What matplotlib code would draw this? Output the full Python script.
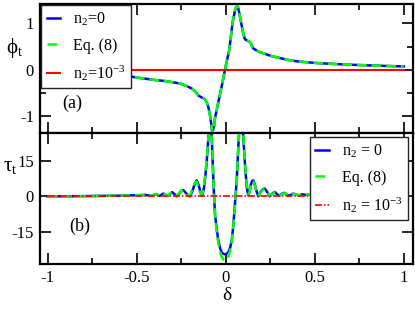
import matplotlib
matplotlib.use("Agg")
import matplotlib.pyplot as plt
from matplotlib.ticker import MultipleLocator, FixedLocator

plt.rcParams['font.family'] = ['Liberation Serif', 'DejaVu Serif']
plt.rcParams['mathtext.fontset'] = 'custom'
plt.rcParams['mathtext.rm'] = 'Liberation Serif'
plt.rcParams['mathtext.it'] = 'Liberation Serif:italic'
plt.rcParams['axes.unicode_minus'] = False
plt.rcParams['lines.scale_dashes'] = False

# ---- panel (a): phase phi_t vs delta ----
delta_a = [-1.0, -0.9, -0.8, -0.7, -0.6, -0.546, -0.5, -0.405, -0.33, -0.256,
           -0.22, -0.19, -0.17, -0.153, -0.135, -0.116, -0.105, -0.097, -0.085,
           -0.075, -0.065, -0.06, -0.04, -0.02, -0.004, 0.02, 0.04, 0.055, 0.067,
           0.078, 0.09, 0.099, 0.108, 0.12, 0.136, 0.155, 0.175, 0.192, 0.23,
           0.26, 0.295, 0.35, 0.4, 0.51, 0.6, 0.7, 0.8, 0.9, 1.0]
phi_n0 = [-0.07, -0.08, -0.09, -0.11, -0.13, -0.14, -0.17, -0.22, -0.25, -0.30,
          -0.35, -0.41, -0.47, -0.56, -0.60, -0.64, -0.72, -0.81, -1.05,
          -1.36, -1.22, -1.05, -0.68, -0.32, 0.0, 0.42, 1.05, 1.32, 1.39,
          1.2, 0.95, 0.78, 0.66, 0.63, 0.6, 0.46, 0.41, 0.38, 0.33,
          0.29, 0.26, 0.21, 0.18, 0.143, 0.125, 0.107, 0.093, 0.08, 0.07]
phi_eq8 = list(phi_n0)
phi_n2 = [0.0, 0.0]
delta_n2 = [-1.0, 1.0]

# ---- panel (b): delay tau_t vs delta ----
delta_b = [-1.0, -0.9, -0.8, -0.7, -0.6, -0.5, -0.45, -0.42, -0.39, -0.37,
           -0.35, -0.325, -0.31, -0.30, -0.288, -0.275, -0.262, -0.25, -0.237,
           -0.225, -0.212, -0.2, -0.188, -0.175, -0.163, -0.152, -0.142, -0.131,
           -0.122, -0.115, -0.107, -0.097, -0.088, -0.078, -0.069, -0.06, -0.05,
           -0.041, -0.03, -0.022, -0.013, -0.004, 0.005, 0.015, 0.025, 0.034,
           0.041, 0.048, 0.062, 0.071, 0.085, 0.099, 0.108, 0.118, 0.127,
           0.133, 0.14, 0.148, 0.155, 0.162, 0.17, 0.183, 0.195, 0.208, 0.22,
           0.232, 0.248, 0.262, 0.276, 0.29, 0.30, 0.315, 0.33, 0.345, 0.36,
           0.375, 0.39, 0.41, 0.43, 0.45, 0.47, 0.5, 0.6, 0.7, 0.8, 0.9, 1.0]
tau_n0 = [0.0, 0.05, 0.1, 0.2, 0.3, 0.5, 0.6, 0.3, 0.9, 0.2,
          1.2, 0.1, 1.2, 1.8, 1.0, 0.0, 1.2, 2.3, 2.6,
          1.6, 0.5, 0.0, 2.0, 5.0, 6.8, 5.0, 2.0, 0.3,
          3.5, 8.0, 14.0, 25.0, 40.0, 25.0, 6.8, -7.4, -14.0,
          -18.8, -22.3, -23.7, -24.4, -24.6, -24.4, -23.7, -21.8, -18.8,
          -14.0, -7.4, 6.8, 20.9, 40.0, 25.0, 14.0, 4.0, 0.5,
          1.8, 4.5, 6.5, 6.8, 5.5, 3.0, 0.0, 1.8, 3.0, 3.3,
          2.0, 0.0, 1.2, 1.9, 0.8, 0.2, 1.1, 1.5, 0.6, 0.3,
          1.1, 1.0, 0.4, 0.9, 0.6, 0.7, 0.6, 0.5, 0.3, 0.2, 0.1, 0.05]
tau_eq8 = [0.0, 0.05, 0.1, 0.2, 0.3, 0.5, 0.6, 0.4, 0.8, 0.3,
           1.1, 0.3, 1.3, 1.6, 0.6, 0.3, 1.5, 2.3, 2.2,
           1.0, 0.4, 0.4, 2.8, 5.5, 6.3, 4.0, 1.2, 0.8,
           4.5, 9.0, 15.0, 25.0, 40.0, 26.0, 8.0, -7.0, -15.0,
           -20.0, -24.0, -25.8, -26.8, -27.2, -26.8, -25.5, -23.0, -19.5,
           -14.5, -8.0, 6.0, 20.0, 40.0, 26.0, 15.0, 5.0, 1.0,
           1.5, 4.0, 6.2, 6.3, 5.0, 3.2, 0.4, 1.6, 2.8, 3.0,
           2.1, 0.3, 1.0, 1.7, 1.0, 0.3, 0.9, 1.4, 0.8, 0.3,
           1.0, 1.0, 0.5, 0.9, 0.6, 0.7, 0.6, 0.5, 0.3, 0.2, 0.1, 0.05]
tau_n2 = [0.0, 0.0]

W, H = 415, 311
fig = plt.figure(figsize=(W / 100, H / 100), dpi=100)
left, right = 39.5 / W, 412.7 / W
y_top, y_mid, y_bot = 1 - 4 / H, 1 - 133 / H, 1 - 264 / H
ax1 = fig.add_axes([left, y_mid, right - left, y_top - y_mid])
ax2 = fig.add_axes([left, y_bot, right - left, y_mid - y_bot])

blue = '#0000ff'
green = '#00ff00'
red = '#ff0000'
lw = 1.8

ax1.plot(delta_a, phi_n0, color=blue, lw=lw, label=r'n$_2$=0')
ax1.plot(delta_a, phi_eq8, color=green, lw=lw, ls=(0, (7, 3.5)), label='Eq. (8)')
ax1.plot(delta_n2, phi_n2, color=red, lw=1.5, label=r'n$_2$=10$^{-3}$')

ax2.plot(delta_b, tau_n0, color=blue, lw=lw, label=r'n$_2$ = 0')
ax2.plot(delta_b, tau_eq8, color=green, lw=lw, ls=(0, (7, 3.5)), label='Eq. (8)')
ax2.plot(delta_n2, tau_n2, color=red, lw=1.2, ls=(0, (5, 1.5, 1, 1.5)),
         label=r'n$_2$ = 10$^{-3}$')

for ax in (ax1, ax2):
    ax.set_xlim(-1.045, 1.05)
    ax.xaxis.set_major_locator(MultipleLocator(0.5))
    ax.xaxis.set_minor_locator(MultipleLocator(0.25))
    ax.tick_params(which='both', direction='in', top=True, right=True,
                   labelsize=12, width=1.2, pad=4)
    ax.tick_params(which='major', length=8)
    ax.tick_params(which='minor', length=4)
    for s in ax.spines.values():
        s.set_linewidth(1.6)

ax1.set_ylim(-1.37, 1.42)
ax1.yaxis.set_major_locator(FixedLocator([-1, 0, 1]))
ax1.yaxis.set_minor_locator(FixedLocator([-0.5, 0.5]))
ax1.tick_params(labelbottom=False)

ax2.set_ylim(-28.7, 26.9)
ax2.yaxis.set_major_locator(FixedLocator([-15, 0, 15]))
ax2.set_xticks([-1, -0.5, 0, 0.5, 1])
ax2.set_xticklabels(['-1', '-0.5', '0', '0.5', '1'])

fig.text(15 / W, 1 - 48 / H, r'$\mathrm{\phi_t}$', fontsize=15, ha='center', va='center')
fig.text(10 / W, 1 - 166 / H, r'$\mathrm{\tau_t}$', fontsize=15, ha='center', va='center')
fig.text(227 / W, 1 - 295 / H, 'δ', fontsize=14, ha='center', va='center')
ax1.text(72 / W, 1 - 103 / H, '(a)', transform=fig.transFigure, fontsize=13,
         ha='center', va='center')
ax2.text(80 / W, 1 - 226 / H, '(b)', transform=fig.transFigure, fontsize=13,
         ha='center', va='center')

leg_kw = dict(fontsize=11.5, frameon=True, fancybox=False, shadow=False,
              handlelength=0.85, handletextpad=0.8, labelspacing=0.6,
              borderpad=0.35, borderaxespad=0, framealpha=1)
l1 = ax1.legend(loc='upper left', bbox_to_anchor=(41 / W, 1 - 5 / H),
                bbox_transform=fig.transFigure, **leg_kw)
l2 = ax2.legend(loc='upper right', bbox_to_anchor=(408 / W, 1 - 137 / H),
                bbox_transform=fig.transFigure, **leg_kw)
for l in (l1, l2):
    l.get_frame().set_edgecolor('#222222')
    l.get_frame().set_linewidth(1.0)

fig.savefig('out.png', dpi=100)
